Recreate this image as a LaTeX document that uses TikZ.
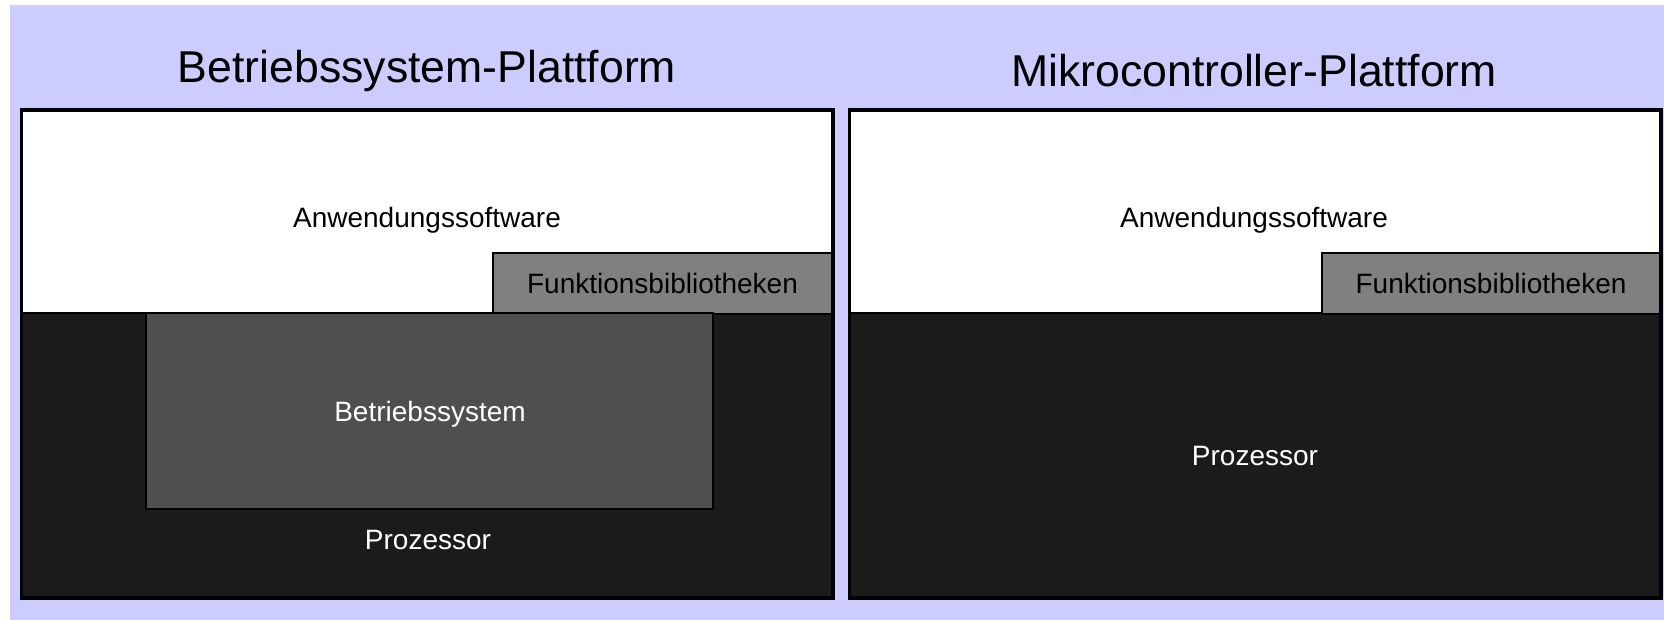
\documentclass[tikz,border=0pt]{standalone}
\usepackage{fontspec}
\setmainfont{Liberation Sans}
\definecolor{lav}{HTML}{CCCCFF}
\definecolor{cpu}{HTML}{1B1B1B}
\definecolor{osgray}{HTML}{4F4F4F}
\definecolor{libgray}{HTML}{808080}
\begin{document}
\begin{tikzpicture}[x=1pt,y=-1pt,
  layer/.style={draw=black,line width=2.5pt,inner sep=0pt,minimum width=810pt},
  libbox/.style={draw=black,line width=2.5pt,inner sep=0pt,fill=libgray,minimum height=61pt,
     font=\fontsize{28}{32}\selectfont},
  boxtext/.style={inner sep=0pt,font=\fontsize{28}{32}\selectfont},
  titletext/.style={inner sep=0pt,font=\fontsize{44.6}{50}\selectfont}]
\useasboundingbox (0,0) rectangle (1664,620);
\fill[lav] (10,5) rectangle (1664,620);
% left panel
\node[layer,fill=white,minimum height=202pt] (appL) at (427,212) {};
\node[layer,fill=cpu,minimum height=284pt] (cpuL) at (427,455) {};
\node[libbox,minimum width=339pt] (libL) at (662.5,283.5) {Funktionsbibliotheken};
\node[draw=black,line width=2.5pt,inner sep=0pt,fill=osgray,minimum width=567pt,minimum height=196pt,
  text=white,font=\fontsize{28}{32}\selectfont] (osL) at (429.5,411) {};
\node[boxtext,text=white] (osLt) at (430,414) {Betriebssystem};
\node[boxtext] (appLt) at (427,220) {Anwendungssoftware};
\node[boxtext,text=white] (cpuLt) at (428,540) {Prozessor};
\draw[line width=2.5pt] (appL.north west) rectangle (cpuL.south east);
% right panel
\node[layer,fill=white,minimum height=202pt] (appR) at (1255,212) {};
\node[layer,fill=cpu,minimum height=284pt] (cpuR) at (1255,455) {};
\node[boxtext,text=white] (cpuRt) at (1255,456) {Prozessor};
\node[libbox,minimum width=338pt] (libR) at (1491,283.5) {Funktionsbibliotheken};
\node[boxtext] (appRt) at (1254,220) {Anwendungssoftware};
\draw[line width=2.5pt] (appR.north west) rectangle (cpuR.south east);
% titles
\node[titletext,anchor=base] (tL) at (427,83) {Betriebssystem-Plattform};
\node[titletext,anchor=base] (tR) at (1254,87) {Mikrocontroller-Plattform};
\end{tikzpicture}
\end{document}
